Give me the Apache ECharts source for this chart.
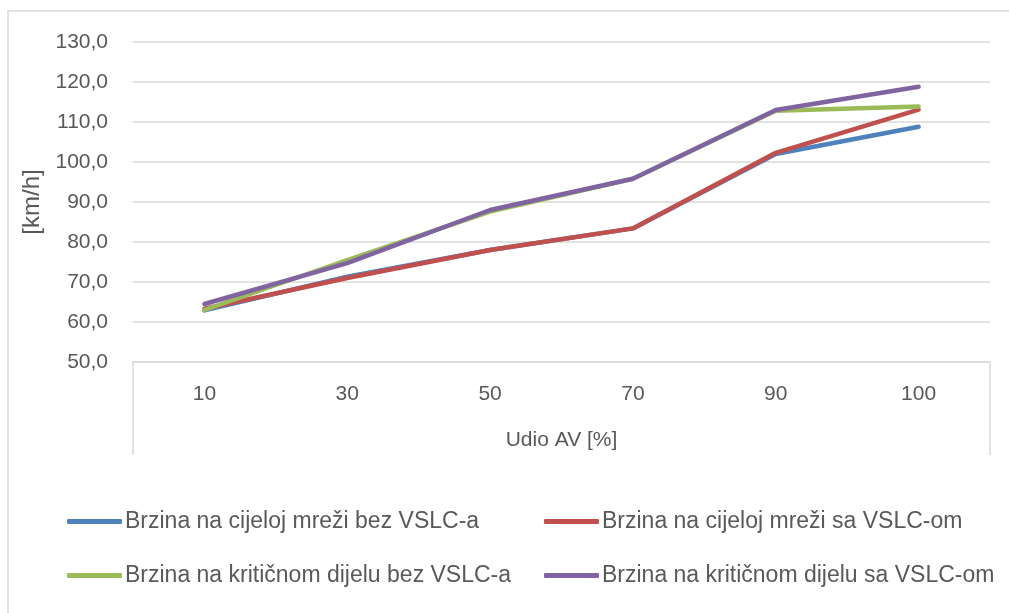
<!DOCTYPE html>
<html>
<head>
<meta charset="utf-8">
<script src="https://cdn.jsdelivr.net/npm/echarts@6/dist/echarts.min.js"></script>
<style>html,body{margin:0;padding:0;background:#fff;}#c{width:1009px;height:613px;}</style>
</head>
<body>
<div id="c"></div>
<script>
const categories = ['10', '30', '50', '70', '90', '100'];
const seriesNames = [
  'Brzina na cijeloj mreži bez VSLC-a',
  'Brzina na cijeloj mreži sa VSLC-om',
  'Brzina na kritičnom dijelu bez VSLC-a',
  'Brzina na kritičnom dijelu sa VSLC-om'
];
const cijelaBez = [62.9, 71.3, 78.0, 83.4, 102.0, 108.8];
const cijelaSa = [63.3, 71.0, 78.0, 83.4, 102.3, 113.1];
const kriticniBez = [63.0, 75.5, 87.6, 95.8, 112.8, 113.9];
const kriticniSa = [64.5, 74.7, 88.0, 95.8, 113.0, 118.8];
const yTicks = { min: 50, max: 130, interval: 10 };
const colors = ['#4f81bd', '#c0504d', '#9bbb59', '#8064a2'];
const values = [cijelaBez, cijelaSa, kriticniBez, kriticniSa];

const font = '"Liberation Sans", Arial, sans-serif';
const txt = '#595959';
const gridCol = '#d9d9d9';

const chart = echarts.init(document.getElementById('c'));
chart.setOption({
  animation: false,
  backgroundColor: '#fff',
  textStyle: { fontFamily: font, color: txt },
  grid: { left: 133, right: 19, top: 42, bottom: 251 },
  xAxis: {
    type: 'category',
    data: categories,
    boundaryGap: true,
    axisLine: { lineStyle: { color: gridCol, width: 1.5 } },
    axisTick: { show: false },
    axisLabel: { color: txt, fontSize: 21, fontFamily: font, margin: 22 },
    name: 'Udio AV [%]',
    nameLocation: 'middle',
    nameGap: 68,
    nameTextStyle: { color: txt, fontSize: 21, fontFamily: font }
  },
  yAxis: {
    type: 'value',
    min: yTicks.min, max: yTicks.max, interval: yTicks.interval,
    axisLine: { show: false },
    axisTick: { show: false },
    splitLine: { lineStyle: { color: gridCol, width: 1.5 } },
    axisLabel: {
      color: txt, fontSize: 21, fontFamily: font, margin: 25,
      formatter: v => v.toFixed(1).replace('.', ',')
    },
    name: '[km/h]',
    nameLocation: 'middle',
    nameGap: 89,
    nameTextStyle: { color: txt, fontSize: 24, fontFamily: font }
  },
  legend: [
    {
      orient: 'vertical', left: 62, top: 505, itemGap: 31,
      itemWidth: 55, itemHeight: 5, icon: 'roundRect',
      textStyle: { color: txt, fontSize: 23, fontFamily: font, padding: [0, 0, 0, -2] },
      data: [seriesNames[0], seriesNames[2]]
    },
    {
      orient: 'vertical', left: 539, top: 505, itemGap: 31,
      itemWidth: 55, itemHeight: 5, icon: 'roundRect',
      textStyle: { color: txt, fontSize: 23, fontFamily: font, padding: [0, 0, 0, -2] },
      data: [seriesNames[1], seriesNames[3]]
    }
  ],
  graphic: [
    { type: 'rect', shape: { x: 8, y: 11, width: 1010, height: 620 }, style: { fill: 'none', stroke: gridCol, lineWidth: 1.5 }, silent: true },
    { type: 'line', shape: { x1: 133, y1: 362, x2: 133, y2: 455 }, style: { stroke: gridCol, lineWidth: 1.5 }, silent: true },
    { type: 'line', shape: { x1: 990, y1: 362, x2: 990, y2: 455 }, style: { stroke: gridCol, lineWidth: 1.5 }, silent: true }
  ],
  series: seriesNames.map((n, i) => ({
    name: n,
    type: 'line',
    data: values[i],
    symbol: 'none',
    color: colors[i],
    lineStyle: { width: 4.5, cap: 'round', join: 'round' },
    itemStyle: { color: colors[i] }
  }))
});
</script>
</body>
</html>
